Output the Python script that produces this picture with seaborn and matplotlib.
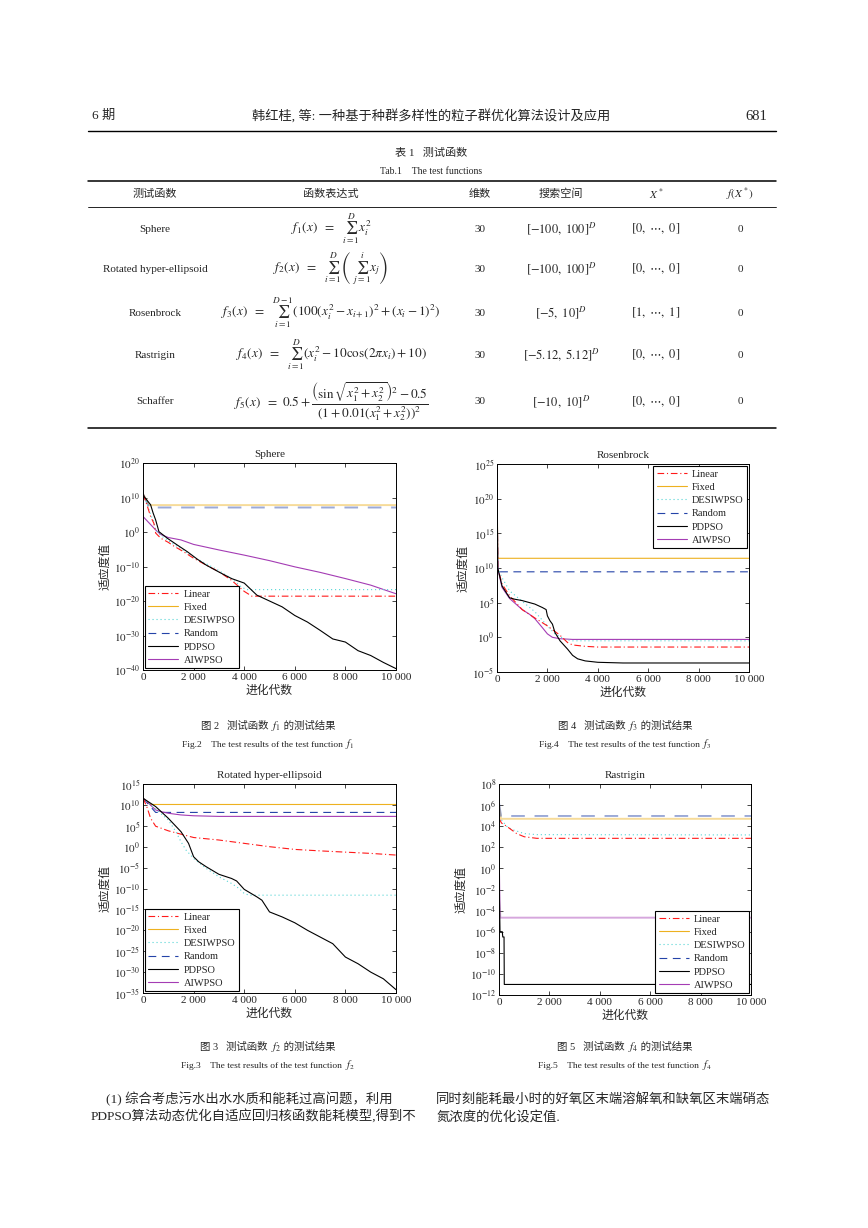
import numpy as np
import pandas as pd
import matplotlib
matplotlib.use("Agg")
import matplotlib.pyplot as plt
import seaborn as sns
from matplotlib.ticker import FuncFormatter, NullLocator
from matplotlib.lines import Line2D

# ------------------------------------------------------------------ data
SERIES = ["Linear", "Fixed", "DESIWPSO", "Random", "PDPSO", "AIWPSO"]
x_ticks = [0, 2000, 4000, 6000, 8000, 10000]
x_tick_labels = ["0", "2 000", "4 000", "6 000", "8 000", "10 000"]

# values are given as log10 of the fitness
# ---- Sphere (f1)
sph_linear_x = [0, 150, 300, 430, 500, 700, 1000, 1200, 1600, 2000, 2500, 3000, 3500, 4000, 4300, 10000]
sph_linear = [11, 8, 4.5, 2.5, -0.3, -1.8, -3, -4, -5.7, -7.6, -9.6, -11.5, -14, -17.2, -18.6, -18.6]
sph_fixed_x = [0, 250, 10000]
sph_fixed = [11, 7.8, 7.8]
sph_desi_x = [0, 150, 300, 430, 500, 700, 1000, 1200, 1600, 2000, 2500, 3000, 3500, 3900, 4100, 10000]
sph_desi = [11, 8.5, 5, 3, 0.5, -1, -2.5, -3.5, -5.3, -7.3, -9.2, -11.2, -13.5, -16.0, -16.7, -16.7]
sph_random_x = [0, 250, 10000]
sph_random = [11, 7.1, 7.1]
sph_pdpso_x = [0, 40, 300, 400, 500, 630, 960, 1360, 1750, 2150, 2500, 3000, 3500, 4000, 4500,
               5000, 5500, 6000, 6500, 7000, 7500, 8000, 8500, 9000, 9500, 10000]
sph_pdpso = [11.3, 10.3, 7.9, 5.5, 3.5, 0.1, -1.8, -3.8, -5.7, -7.9, -9.6, -11.6, -13.5, -14.8, -18.3,
             -20, -21.7, -24.2, -26.1, -28.5, -31, -31.9, -34.4, -35.8, -37.8, -39.6]
sph_aiwpso_x = [0, 500, 700, 1000, 1500, 2000, 3000, 4000, 5000, 6000, 7000, 8000, 9000, 10000]
sph_aiwpso = [4.5, 0.6, -0.7, -1.6, -2.3, -3.6, -5.2, -6.7, -8.3, -10.1, -11.7, -13.5, -15.4, -17.9]

# ---- Rosenbrock (f3)
ros_linear_x = [0, 30, 200, 500, 1000, 1500, 2000, 2500, 2800, 3000, 3500, 4000, 10000]
ros_linear = [24.5, 10, 7.7, 6.0, 4.0, 2.8, 1.65, 0.3, -0.75, -1.1, -1.3, -1.4, -1.4]
ros_fixed_x = [0, 30, 10000]
ros_fixed = [24.5, 11.4, 11.4]
ros_desi_x = [0, 30, 200, 500, 1000, 1500, 2000, 2300, 2700, 3000, 10000]
ros_desi = [24.5, 10, 8.6, 6.7, 5.2, 3.7, 1.65, 0.5, -0.3, -0.5, -0.5]
ros_random_x = [0, 30, 10000]
ros_random = [24.5, 9.45, 9.45]
ros_pdpso_x = [0, 30, 200, 500, 700, 1000, 1500, 1800, 1950, 2000, 2100, 2200, 2300, 2500, 2800,
               3000, 3200, 3500, 4000, 5000, 10000]
ros_pdpso = [24.5, 10, 7.4, 5.7, 5.5, 5.3, 4.8, 4.3, 4.0, 3.1, 2.4, 1.9, 0.7, -0.5, -1.7,
             -2.6, -3.1, -3.4, -3.6, -3.7, -3.7]
ros_aiwpso_x = [0, 30, 200, 500, 1000, 1300, 1500, 1800, 2000, 2200, 2500, 3000, 10000]
ros_aiwpso = [24.5, 10, 7.2, 5.6, 4.0, 3.3, 2.7, 1.4, 0.5, 0.0, -0.2, -0.3, -0.3]

# ---- Rotated hyper-ellipsoid (f2)
rot_linear_x = [0, 150, 300, 500, 1000, 1500, 2000, 3000, 4000, 5000, 6000, 7000, 8000, 9000, 10000]
rot_linear = [11.6, 9.6, 6.8, 4.9, 3.8, 3.0, 2.2, 1.6, 0.8, 0.0, -0.65, -1.0, -1.3, -1.6, -2.0]
rot_fixed_x = [0, 300, 10000]
rot_fixed = [11.6, 10.1, 10.1]
rot_desi_x = [0, 300, 500, 1000, 1300, 1500, 1700, 2000, 2500, 3000, 3500, 3800, 4000, 4200, 10000]
rot_desi = [11.6, 10, 9, 6.4, 3.6, 1.2, -0.8, -2.8, -5.2, -7.2, -8.8, -10, -11.2, -11.6, -11.6]
rot_random_x = [0, 500, 10000]
rot_random = [11.6, 8.2, 8.2]
rot_pdpso_x = [0, 300, 500, 1000, 1500, 1800, 2000, 2200, 2500, 3000, 3500, 3700, 4000, 4500, 4700,
               5000, 5500, 6000, 6500, 7000, 7500, 8000, 8500, 9000, 9500, 10000]
rot_pdpso = [11.6, 10.4, 9.6, 6.8, 3.6, 0.8, -2.4, -3.6, -4.8, -6.6, -7.6, -8.2, -10.2, -12, -12.8,
             -15.6, -16.8, -18.2, -20, -21.6, -23.2, -26.4, -28, -30, -31.6, -34.2]
rot_aiwpso_x = [0, 200, 500, 700, 1000, 1500, 2000, 3000, 10000]
rot_aiwpso = [11.6, 10.5, 8.8, 8.4, 8.0, 7.6, 7.4, 7.25, 7.25]

# ---- Rastrigin (f4)
ras_linear_x = [0, 100, 300, 500, 700, 1000, 1500, 10000]
ras_linear = [4.75, 4.3, 4.0, 3.65, 3.3, 3.0, 2.85, 2.85]
ras_fixed_x = [0, 80, 10000]
ras_fixed = [6.0, 4.7, 4.7]
ras_desi_x = [0, 300, 500, 1000, 1500, 10000]
ras_desi = [4.9, 4.0, 3.7, 3.3, 3.2, 3.17]
ras_random_x = [0, 80, 10000]
ras_random = [6.2, 4.97, 4.97]
ras_pdpso_x = [0, 20, 40, 130, 150, 200, 210, 10000]
ras_pdpso = [6.5, -3, -6.0, -6.0, -6.5, -6.5, -11.0, -11.0]
ras_aiwpso_x = [0, 50, 10000]
ras_aiwpso = [-0.3, -4.67, -4.67]

COLORS = {"Linear": "#FF1A1A", "Fixed": "#EDB120", "DESIWPSO": "#55D5D5",
          "Random": "#2443A8", "PDPSO": "#000000", "AIWPSO": "#A43CB4"}
STYLES = {"Linear": (0, (6, 2.5, 1, 2.5)), "Fixed": "-", "DESIWPSO": (0, (1, 2.6)),
          "Random": (0, (7, 5)), "PDPSO": "-", "AIWPSO": "-"}
DRAW_ORDER = ["Fixed", "Random", "AIWPSO", "DESIWPSO", "Linear", "PDPSO"]

# ------------------------------------------------------------------ style
sns.set_style("ticks")
plt.rcParams["font.family"] = ["Liberation Serif", "Noto Sans CJK SC"]
plt.rcParams["mathtext.fontset"] = "stix"
plt.rcParams["axes.linewidth"] = 0.7

W, H = 868, 1228
fig = plt.figure(figsize=(W / 100, H / 100), dpi=100)
renderer = fig.canvas.get_renderer()


def fx(x):
    return x / W


def fy(y):
    return 1 - y / H


def T(x, y, s, size, ha="center", va="center", **kw):
    return fig.text(fx(x), fy(y), s, fontsize=size, ha=ha, va=va, **kw)


def chain(xc, y, pieces):
    """Place several text pieces side by side, centred as a whole on xc."""
    objs = []
    widths = []
    for s, size in pieces:
        t = fig.text(0, fy(y), s, fontsize=size, ha="left", va="baseline")
        w = t.get_window_extent(renderer).width
        objs.append(t)
        widths.append(w)
    x = xc - sum(widths) / 2
    for t, w in zip(objs, widths):
        t.set_x(fx(x))
        x += w


def hline(y, x0, x1, lw):
    fig.add_artist(Line2D([fx(x0), fx(x1)], [fy(y), fy(y)], color="black", lw=lw,
                          transform=fig.transFigure))


def panel(box, title, data, ylo, yhi, step, loc, light=()):
    l, t, r, b = box
    ax = fig.add_axes([fx(l), fy(b), (r - l) / W, (b - t) / H])
    for name in DRAW_ORDER:
        xs, es = data[name]
        df = pd.DataFrame({"gen": xs, "fit": 10.0 ** np.asarray(es, dtype=float)})
        sns.lineplot(data=df, x="gen", y="fit", ax=ax, color=COLORS[name],
                     linestyle=STYLES[name], linewidth=1.4 if name in light else 0.8,
                     alpha=0.45 if name in light else 1.0, label=name,
                     estimator=None, sort=False)
    ax.set_yscale("log")
    ax.set_ylim(10.0 ** ylo, 10.0 ** yhi)
    ax.set_xlim(0, 10000)
    ax.set_yticks([10.0 ** k for k in range(ylo, yhi + 1, step)])
    ax.yaxis.set_minor_locator(NullLocator())
    ax.yaxis.set_major_formatter(FuncFormatter(lambda v, p: r"$10^{%d}$" % int(round(np.log10(v)))))
    ax.set_xticks(x_ticks)
    ax.set_xticklabels(x_tick_labels)
    ax.tick_params(direction="in", top=True, right=True, length=3, width=0.6,
                   labelsize=8, pad=2)
    for sp in ax.spines.values():
        sp.set_visible(True)
        sp.set_color("black")
        sp.set_linewidth(0.7)
    ax.set_title(title, fontsize=8, pad=4)
    ax.set_xlabel("进化代数", fontsize=8.5, labelpad=2)
    ax.set_ylabel("适应度值", fontsize=8.5, labelpad=2)
    h, lab = ax.get_legend_handles_labels()
    hm = dict(zip(lab, h))
    leg_handles = [Line2D([], [], color=COLORS[s], linestyle=STYLES[s], linewidth=0.8) for s in SERIES]
    leg = ax.legend(leg_handles, SERIES, loc=loc, frameon=True, fancybox=False,
                    edgecolor="black", facecolor="white", framealpha=1, fontsize=7.5,
                    handlelength=2.9, handletextpad=0.5, labelspacing=0.38,
                    borderpad=0.35, borderaxespad=0.15)
    leg.get_frame().set_linewidth(0.8)
    return ax


panel((143, 463, 396, 670), "Sphere",
      {"Linear": (sph_linear_x, sph_linear), "Fixed": (sph_fixed_x, sph_fixed),
       "DESIWPSO": (sph_desi_x, sph_desi), "Random": (sph_random_x, sph_random),
       "PDPSO": (sph_pdpso_x, sph_pdpso), "AIWPSO": (sph_aiwpso_x, sph_aiwpso)},
      -40, 20, 10, "lower left", light=("Fixed", "Random"))
panel((497, 464, 749, 672), "Rosenbrock",
      {"Linear": (ros_linear_x, ros_linear), "Fixed": (ros_fixed_x, ros_fixed),
       "DESIWPSO": (ros_desi_x, ros_desi), "Random": (ros_random_x, ros_random),
       "PDPSO": (ros_pdpso_x, ros_pdpso), "AIWPSO": (ros_aiwpso_x, ros_aiwpso)},
      -5, 25, 5, "upper right")
panel((143, 784, 396, 993), "Rotated hyper-ellipsoid",
      {"Linear": (rot_linear_x, rot_linear), "Fixed": (rot_fixed_x, rot_fixed),
       "DESIWPSO": (rot_desi_x, rot_desi), "Random": (rot_random_x, rot_random),
       "PDPSO": (rot_pdpso_x, rot_pdpso), "AIWPSO": (rot_aiwpso_x, rot_aiwpso)},
      -35, 15, 5, "lower left")
panel((499, 784, 751, 995), "Rastrigin",
      {"Linear": (ras_linear_x, ras_linear), "Fixed": (ras_fixed_x, ras_fixed),
       "DESIWPSO": (ras_desi_x, ras_desi), "Random": (ras_random_x, ras_random),
       "PDPSO": (ras_pdpso_x, ras_pdpso), "AIWPSO": (ras_aiwpso_x, ras_aiwpso)},
      -12, 8, 2, "lower right", light=("Fixed", "Random", "AIWPSO"))

# ------------------------------------------------------------------ page text
T(92, 116, "6 期", 9.5, ha="left")
T(431, 116, "韩红桂, 等: 一种基于种群多样性的粒子群优化算法设计及应用", 9.5)
T(767, 116, "681", 10.5, ha="right")
hline(131, 88, 776, 1.0)

T(431, 153, "表 1   测试函数", 8)
T(431, 171, "Tab.1    The test functions", 7)

hline(181, 88, 776, 1.1)
hline(207, 88, 776, 0.6)
hline(428, 88, 776, 1.1)

col_x = [155, 331, 480, 561, 656, 740]
header = ["测试函数", "函数表达式", "维数", "搜索空间", r"$X^*$", r"$f(X^*)$"]
for cx, s in zip(col_x, header):
    T(cx, 194, s, 8)

row_y = [229, 269, 313, 355, 402]
func_names = ["Sphere", "Rotated hyper-ellipsoid", "Rosenbrock", "Rastrigin", "Schaffer"]
formulas = [
    r"$f_1(x)\ \ =\ \ \sum_{i=1}^{D}x_i^2$",
    r"$f_2(x)\ \ =\ \ \sum_{i=1}^{D}\left(\ \sum_{j=1}^{i}x_j\right)$",
    r"$f_3(x)\ \ =\ \ \sum_{i=1}^{D-1}(100(x_i^2-x_{i+1})^2+(x_i-1)^2)$",
    r"$f_4(x)\ \ =\ \ \sum_{i=1}^{D}(x_i^2-10\cos(2\pi x_i)+10)$",
    r"$f_5(x)\ \ =\ 0.5+\dfrac{\left(\sin\sqrt{x_1^2+x_2^2}\right)^2-0.5}{(1+0.01(x_1^2+x_2^2))^2}$",
]
dims = ["30", "30", "30", "30", "30"]
spaces = [r"$[-100,\ 100]^D$", r"$[-100,\ 100]^D$", r"$[-5,\ 10]^D$",
          r"$[-5.12,\ 5.12]^D$", r"$[-10,\ 10]^D$"]
optima = [r"$[0,\ \cdots,\ 0]$", r"$[0,\ \cdots,\ 0]$", r"$[1,\ \cdots,\ 1]$",
          r"$[0,\ \cdots,\ 0]$", r"$[0,\ \cdots,\ 0]$"]
fopt = ["0", "0", "0", "0", "0"]
for i, ry in enumerate(row_y):
    T(col_x[0], ry, func_names[i], 8)
    T(col_x[1], ry, formulas[i], 9.5)
    T(col_x[2], ry, dims[i], 8)
    T(col_x[3], ry, spaces[i], 9)
    T(col_x[4], ry, optima[i], 9)
    T(col_x[5], ry, fopt[i], 8)

# figure captions
caps = [(268, 729, 747, "2", "1"), (625, 729, 747, "4", "3"),
        (268, 1050, 1068, "3", "2"), (625, 1050, 1068, "5", "4")]
for cx, y1, y2, num, fn in caps:
    chain(cx, y1, [("图 %s   测试函数 " % num, 7.5), (r"$f_{%s}$" % fn, 8), (" 的测试结果", 7.5)])
    chain(cx, y2, [("Fig.%s    The test results of the test function " % num, 6.8),
                   (r"$f_{%s}$" % fn, 7.5)])

# body text
T(106, 1099, "(1) 综合考虑污水出水水质和能耗过高问题，利用", 9.6, ha="left")
T(91, 1117, "PDPSO算法动态优化自适应回归核函数能耗模型,得到不", 9.6, ha="left")
T(436, 1099, "同时刻能耗最小时的好氧区末端溶解氧和缺氧区末端硝态", 9.6, ha="left")
T(436, 1117, "氮浓度的优化设定值.", 9.6, ha="left")

fig.savefig("out.png", dpi=100, facecolor="white")
